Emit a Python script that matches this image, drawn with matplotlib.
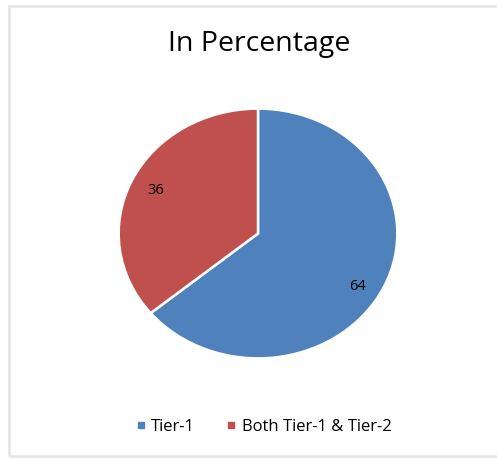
import matplotlib
matplotlib.use("Agg")
import numpy as np
import matplotlib.pyplot as plt
from matplotlib.patches import Rectangle
from matplotlib.lines import Line2D

categories = ["Tier-1", "Both Tier-1 & Tier-2"]
values = [64, 36]
colors = ["#4F81BD", "#C0504D"]
title = "In Percentage"

W, H = 497, 459
fig = plt.figure(figsize=(W / 100, H / 100), dpi=100)
fig.patch.set_facecolor("white")
plt.rcParams['font.family'] = ['Open Sans', 'DejaVu Sans']

# chart frame (right edge runs off the picture)
fig.patches.append(Rectangle((9 / W, 1 - 456 / H), (W + 60) / W, (456 - 6) / H,
                             transform=fig.transFigure, fill=False,
                             edgecolor="#e4e4e4", linewidth=1.8, zorder=0))

ax = fig.add_axes([118 / W, 1 - 359 / H, 280 / W, 251 / H])
wedges, texts, autotexts = ax.pie(values, colors=colors, startangle=90, counterclock=False,
                                  autopct=lambda p: f"{p:.0f}", pctdistance=0.81,
                                  wedgeprops=dict(edgecolor="white", linewidth=1.8),
                                  textprops=dict(fontsize=10.5, color="black"))
ax.set_aspect("auto")
ax.set_xlim(-1.005, 1.005)
ax.set_ylim(-1.005, 1.005)
# Excel places the larger label a little lower than the wedge bisector
a = np.deg2rad(-31)
autotexts[0].set_position((0.83 * np.cos(a), 0.83 * np.sin(a)))

fig.text(259 / W, 1 - 44 / H, title, ha="center", va="center", fontsize=20.5, color="black")

handles = [Line2D([0], [0], marker="s", linestyle="none", markersize=4.5,
                  markerfacecolor=c, markeredgecolor=c) for c in colors]
fig.legend(handles, categories, loc="center", bbox_to_anchor=(264 / W, 1 - 427 / H),
           ncol=2, frameon=False, fontsize=12, handlelength=0.5, handletextpad=0.4,
           columnspacing=1.9)

fig.savefig("out.png", dpi=100)
